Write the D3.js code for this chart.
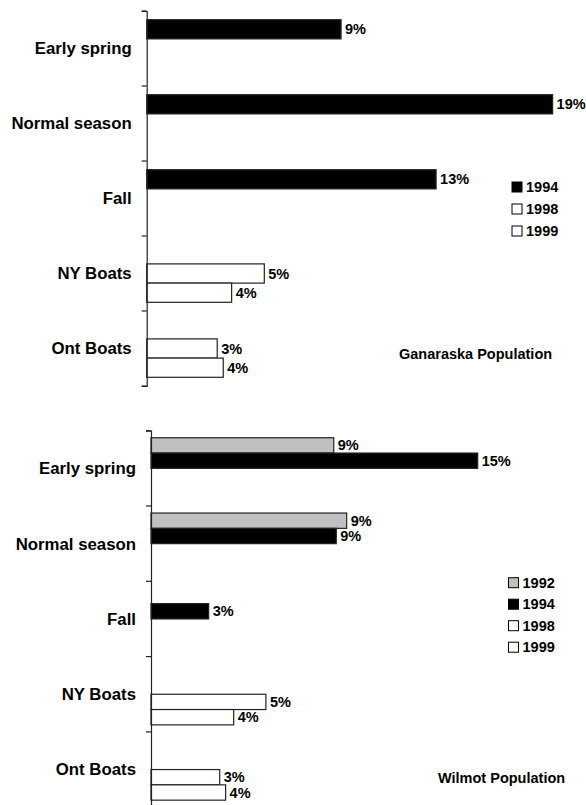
<!DOCTYPE html>
<html>
<head>
<meta charset="utf-8">
<script src="https://cdn.jsdelivr.net/npm/d3@7"></script>
<style>
  html, body { margin: 0; padding: 0; background: #fff; }
  svg { display: block; font-family: "Liberation Sans", Arial, sans-serif; font-weight: bold; }
</style>
</head>
<body>
<svg id="chart" width="586" height="805"></svg>
<script>
// ---- data ----
const categories = ["Early spring", "Normal season", "Fall", "NY Boats", "Ont Boats"];

// Ganaraska population (percent)
const ganSeries = ["1994", "1998", "1999"];
const gan1994 = [9.04, 18.88, 13.46, null, null];
const gan1998 = [null, null, null, 5.47, 3.28];
const gan1999 = [null, null, null, 3.95, 3.56];

// Wilmot population (percent)
const wilSeries = ["1992", "1994", "1998", "1999"];
const wil1992 = [8.62, 9.23, null, null, null];
const wil1994 = [15.41, 8.74, 2.72, null, null];
const wil1998 = [null, null, null, 5.42, 3.24];
const wil1999 = [null, null, null, 3.90, 3.52];

const seriesFill = { "1992": "#c0c0c0", "1994": "#000000", "1998": "#ffffff", "1999": "#ffffff" };

const svg = d3.select("#chart");

function drawPanel(cfg) {
  const g = svg.append("g");
  const y = d3.scaleBand().domain(categories).range([cfg.y0, cfg.y1]).padding(0);
  const inner = d3.scaleBand().domain(cfg.series).range([0, y.bandwidth()])
    .paddingInner(0).paddingOuter(cfg.padOuter);
  const x = d3.scaleLinear().domain([0, 20]).range([cfg.x0, cfg.x1]);

  // bars
  cfg.series.forEach((s, si) => {
    const vals = cfg.values[si];
    const pts = categories.map((c, i) => ({ c, v: vals[i], s })).filter(d => d.v != null);
    g.selectAll(null).data(pts).enter().append("rect")
      .attr("x", x(0))
      .attr("y", d => y(d.c) + inner(d.s))
      .attr("width", d => x(d.v) - x(0))
      .attr("height", inner.bandwidth())
      .attr("fill", seriesFill[s])
      .attr("stroke", "#222")
      .attr("stroke-width", 1.2);
    g.selectAll(null).data(pts).enter().append("text")
      .attr("x", d => x(d.v) + 4)
      .attr("y", d => y(d.c) + inner(d.s) + inner.bandwidth() / 2)
      .attr("dy", "0.35em")
      .attr("font-size", "14.5px")
      .attr("fill", "#000")
      .text(d => Math.round(d.v) + "%");
  });

  // axis
  const axis = d3.axisLeft(y).tickSize(5).tickSizeOuter(5).tickFormat("");
  const ag = g.append("g").attr("transform", `translate(${x(0)},0)`).call(axis);
  ag.selectAll(".tick line").remove();
  ag.select(".domain").attr("stroke", "#222").attr("stroke-width", 1.2);
  // boundary ticks between categories
  const bounds = categories.map(c => y(c)).concat([cfg.y1]);
  ag.selectAll(null).data(bounds).enter().append("line")
    .attr("x1", -5).attr("x2", 0)
    .attr("y1", d => d).attr("y2", d => d)
    .attr("stroke", "#222").attr("stroke-width", 1.2);

  // category labels
  g.selectAll(null).data(categories).enter().append("text")
    .attr("x", x(0) - 15)
    .attr("y", c => y(c) + y.bandwidth() / 2)
    .attr("dy", "0.35em")
    .attr("text-anchor", "end")
    .attr("font-size", "16.8px")
    .attr("fill", "#000")
    .text(c => c);

  // legend
  const lg = g.append("g");
  cfg.series.forEach((s, i) => {
    const ly = cfg.legY + i * cfg.legStep;
    lg.append("rect").attr("x", cfg.legX).attr("y", ly - 5)
      .attr("width", 10).attr("height", 10)
      .attr("fill", seriesFill[s]).attr("stroke", "#000").attr("stroke-width", 1);
    lg.append("text").attr("x", cfg.legX + 14).attr("y", ly).attr("dy", "0.35em")
      .attr("font-size", "14.5px").attr("fill", "#000").text(s);
  });

  // title
  g.append("text").attr("x", cfg.titleX).attr("y", cfg.titleY).attr("dy", "0.35em")
    .attr("font-size", "14.5px").attr("fill", "#000").text(cfg.title);
}

drawPanel({
  series: ganSeries, values: [gan1994, gan1998, gan1999],
  y0: 11, y1: 386, x0: 146.7, x1: 146.7 + 21.5 * 20, padOuter: 0.453,
  legX: 512, legY: 187, legStep: 22,
  title: "Ganaraska Population", titleX: 399, titleY: 354
});

drawPanel({
  series: wilSeries, values: [wil1992, wil1994, wil1998, wil1999],
  y0: 430.7, y1: 807.2, x0: 151, x1: 151 + 21.2 * 20, padOuter: 0.46,
  legX: 508.5, legY: 582.7, legStep: 21.5,
  title: "Wilmot Population", titleX: 438, titleY: 777.5
});
</script>
</body>
</html>
